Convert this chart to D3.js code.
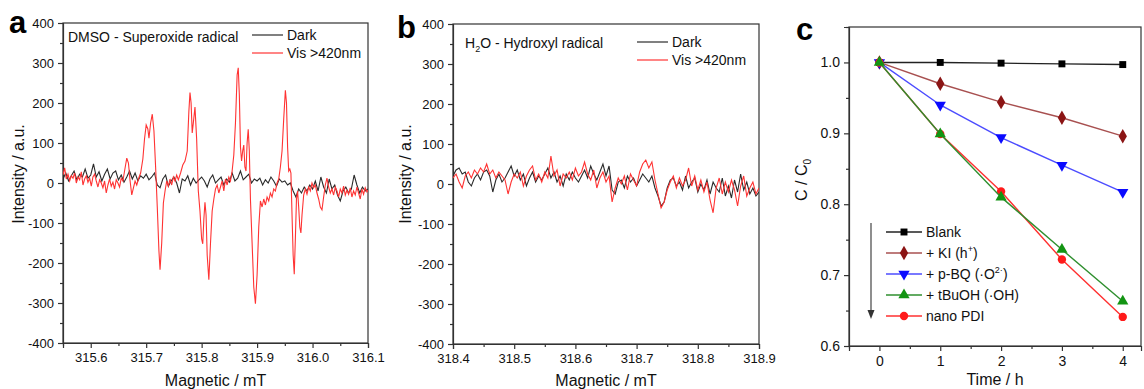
<!DOCTYPE html>
<html lang="en">
<head>
<meta charset="UTF-8">
<title>EPR spectra and scavenger test</title>
<script src="https://d3js.org/d3.v7.min.js"></script>
<style>
  body { margin: 0; background: #fff; }
  svg { display: block; font-family: "Liberation Sans", Arial, sans-serif; }
  .axis path, .axis line { stroke: #333; stroke-width: 1.2; }
  .axis text { font-size: 13px; fill: #111; }
  .axis.c text { font-size: 14px; }
  .title { font-size: 16px; fill: #111; }
  .legend { font-size: 14px; fill: #111; }
  .letter { font-size: 31px; font-weight: bold; fill: #000; }
</style>
</head>
<body>
<svg id="chart" width="1144" height="389"></svg>
<script>
// ---------- panel a : DMSO, superoxide radical ----------
const aStart = 315.55, aStep = 0.005;
const aDark = [10, 25, 5, 18, 30, 8, 22, 15, 35, 12, 20,
  48, 15, 28, 5, 22, 35, 10, 25, 30, 8,
  20, 2, 15, 30, 10, 25, 5, 18, 12, 22,
  8, 15, 25, -5, -12, 10, 20, -8, 5, 15,
  0, -25, 10, 5, 18, -5, 12, 0, 8, 15,
  5, -10, 10, 20, 0, 8, 15, -5, 10, 2,
  25, 5, 12, 30, 8, 15, 22, 0, 10, 5,
  12, -5, 8, 0, 15, 5, -8, 10, 2, 5,
  -5, 0, -20, -35, -15, -25, -10, -20, -5, -15,
  5, -20, 15, -10, -25, 10, -15, -5, -30, -45,
  -20, -10, -25, -15, 20, -5, -25, -10, -20, -15];

const aVisField = [315.550, 315.553, 315.556, 315.559, 315.562, 315.565, 315.568, 315.571, 315.574, 315.577,
  315.580, 315.583, 315.586, 315.589, 315.592, 315.595, 315.598, 315.601, 315.604, 315.607,
  315.610, 315.613, 315.616, 315.619, 315.622, 315.625, 315.628, 315.631, 315.634, 315.637,
  315.640, 315.643, 315.646, 315.649, 315.652, 315.655, 315.658, 315.661, 315.665, 315.668,
  315.671, 315.674, 315.677, 315.680, 315.683, 315.686, 315.690, 315.694, 315.697, 315.700,
  315.703, 315.705, 315.708, 315.711, 315.714, 315.717, 315.720, 315.723, 315.725, 315.728,
  315.731, 315.734, 315.737, 315.740, 315.743, 315.746, 315.749, 315.752, 315.755, 315.758,
  315.762, 315.766, 315.770, 315.774, 315.777, 315.779, 315.781, 315.783, 315.785, 315.788,
  315.791, 315.794, 315.797, 315.800, 315.802, 315.804, 315.806, 315.808, 315.810, 315.813,
  315.816, 315.819, 315.822, 315.825, 315.828, 315.831, 315.834, 315.837, 315.840, 315.843,
  315.846, 315.849, 315.852, 315.855, 315.858, 315.861, 315.864, 315.866, 315.868, 315.870,
  315.872, 315.874, 315.876, 315.878, 315.880, 315.882, 315.884, 315.886, 315.888, 315.891,
  315.894, 315.897, 315.900, 315.903, 315.906, 315.909, 315.912, 315.915, 315.918, 315.921,
  315.924, 315.927, 315.930, 315.933, 315.936, 315.939, 315.942, 315.945, 315.948, 315.951,
  315.953, 315.955, 315.957, 315.959, 315.961, 315.963, 315.965, 315.967, 315.969, 315.971,
  315.973, 315.975, 315.977, 315.979, 315.981, 315.984, 315.987, 315.990, 315.993, 315.996,
  315.999, 316.002, 316.005, 316.008, 316.011, 316.014, 316.017, 316.020, 316.023, 316.026,
  316.029, 316.032, 316.035, 316.038, 316.041, 316.044, 316.047, 316.050, 316.053, 316.056,
  316.059, 316.062, 316.065, 316.068, 316.071, 316.074, 316.077, 316.080, 316.083, 316.086,
  316.089, 316.092, 316.095, 316.098, 316.100];
const aVisInt = [20, 38, 10, 22, 5, 18, 12, 25, 0, 15,
  8, 28, -5, 10, 18, 2, 12, -8, 15, 22,
  5, -10, 8, 0, -12, 5, -25, -5, 10, -8,
  2, -15, 8, 0, -10, 12, 5, 30, 62, 50,
  5, -30, -12, 5, -5, 10, 25, 60, 110, 145,
  135, 112, 150, 172, 130, 40, -60, -170, -217, -150,
  -50, -20, 5, -8, 10, -5, 15, 5, 20, 8,
  25, 45, 55, 80, 180, 226, 200, 125, 150, 190,
  110, -20, -70, -140, -152, -90, -48, -80, -180, -242,
  -150, -70, -40, -15, -5, -25, -10, 5, -20, 10,
  -5, 15, 5, 30, 70, 150, 270, 288, 220, 90,
  55, 80, 95, 40, 30, 100, 134, 80, -40, -150,
  -260, -302, -230, -110, -45, -60, -40, -55, -35, -45,
  -25, -35, -15, -20, 0, 10, 40, 80, 160, 232,
  200, 90, 30, 35, 25, -80, -180, -228, -140, -40,
  -20, -60, -110, -125, -80, -30, -15, -28, -10, -20,
  0, -12, -5, -25, -40, -60, -67, -35, -5, 12,
  -10, -25, -15, -30, -10, -20, -35, -15, -25, -8,
  -30, -18, -28, -12, -35, -20, -30, -10, -25, -40,
  -15, -28, -12, -22, -18];

// ---------- panel b : H2O, hydroxyl radical ----------
const bStart = 318.4, bStep = 0.005;
const bDark = [20, 35, 40, 25, 30, 5, -5, 15, 25, 10, 30,
  35, 20, -20, 10, 25, 5, 15, 30, 45, 20,
  35, 10, 25, -5, 15, 30, 5, 20, 10, 25,
  40, 15, 30, 5, 20, -5, 25, 10, 30, 15,
  5, 20, 35, 15, 45, 25, 10, 30, 50, 20,
  45, -15, -25, 5, 10, -10, 20, 5, 15, -5,
  10, 25, 15, 5, 20, -10, -30, -55, -45, -10,
  10, 15, -5, 5, -15, 20, -10, 5, 15, -20,
  0, -15, 10, -25, 5, -10, -20, 15, -30, -5,
  -35, 10, -20, 25, -15, 5, -25, -10, -30, -20];
const bVis = [15, 25, 5, -10, 20, 30, 15, 35, 25, 40, 30,
  50, 25, 35, 15, 30, 20, 10, -25, 5, 25,
  15, 30, -5, 20, 35, 45, 10, 25, 5, 30,
  15, 70, 20, 35, -5, 25, 15, 30, 10, 40,
  20, 30, 55, 25, 10, 35, -10, 15, 30, 5,
  20, -45, -10, 15, 0, 20, -15, 25, 10, -5,
  30, 50, 60, 40, 55, 10, -25, -60, -45, -15,
  5, 20, -10, 15, -5, 10, 40, -5, 20, -15,
  10, -20, 5, -40, -72, -10, 15, -25, 5, -20,
  10, -15, -55, -5, 20, -30, -10, 5, -25, -10];

// ---------- panel c : scavenger test ----------
const cTime = [0, 1, 2, 3, 4];
const cBlank = [1.000, 1.000, 0.999, 0.998, 0.997];
const cKI = [1.000, 0.970, 0.944, 0.922, 0.896];
const cBQ = [1.000, 0.940, 0.894, 0.855, 0.817];
const cTBuOH = [1.000, 0.899, 0.810, 0.736, 0.663];
const cPDI = [1.000, 0.899, 0.818, 0.722, 0.641];

const svg = d3.select("#chart");
const fmtInt = d => String(d);

function frameAxes(g, x, y, xMaj, xMin, yMaj, yMin, xFmt, yFmt, cls) {
  const [l, r] = x.range(), [b, t] = y.range();
  const ax = g.append("g").attr("class", "axis " + cls).attr("transform", `translate(0,${b})`);
  ax.call(d3.axisBottom(x).tickValues(xMaj).tickSize(5).tickPadding(5).tickFormat(xFmt));
  g.append("g").attr("class", "axis").attr("transform", `translate(0,${b})`)
    .call(d3.axisBottom(x).tickValues(xMin).tickSize(3).tickFormat(""))
    .select(".domain").remove();
  const ay = g.append("g").attr("class", "axis " + cls).attr("transform", `translate(${l},0)`);
  ay.call(d3.axisLeft(y).tickValues(yMaj).tickSize(5).tickPadding(4).tickFormat(yFmt));
  g.append("g").attr("class", "axis").attr("transform", `translate(${l},0)`)
    .call(d3.axisLeft(y).tickValues(yMin).tickSize(3).tickFormat(""))
    .select(".domain").remove();
  g.append("rect").attr("x", l).attr("y", t).attr("width", r - l).attr("height", b - t)
    .attr("fill", "none").attr("stroke", "#333").attr("stroke-width", 1.2);
}

function spectrumPanel(o) {
  const g = svg.append("g");
  const x = d3.scaleLinear().domain(o.xDomain).range([o.left, o.right]);
  const y = d3.scaleLinear().domain([-400, 400]).range([o.bottom, o.top]);
  frameAxes(g, x, y, o.xMaj, o.xMin, d3.range(-400, 401, 100), d3.range(-350, 400, 100),
    d3.format(".1f"), fmtInt, "ab");
  const clipId = "clip" + o.letter;
  g.append("clipPath").attr("id", clipId).append("rect")
    .attr("x", o.left).attr("y", o.top).attr("width", o.right - o.left).attr("height", o.bottom - o.top);
  const line = d3.line().x(d => x(d[0])).y(d => y(d[1]));
  const plot = g.append("g").attr("clip-path", `url(#${clipId})`);
  plot.append("path").datum(o.dark).attr("d", line).attr("fill", "none")
    .attr("stroke", "#2a2a2a").attr("stroke-width", 1.1);
  plot.append("path").datum(o.vis).attr("d", line).attr("fill", "none")
    .attr("stroke", "#ff3333").attr("stroke-width", 1.1);

  // legend
  const lg = g.append("g");
  lg.append("line").attr("x1", o.legX).attr("x2", o.legX + 31).attr("y1", o.legY).attr("y2", o.legY)
    .attr("stroke", "#2a2a2a").attr("stroke-width", 1.2);
  lg.append("text").attr("class", "legend").attr("x", o.legX + 35).attr("y", o.legY + 5).text("Dark");
  lg.append("line").attr("x1", o.legX).attr("x2", o.legX + 31).attr("y1", o.legY + 18).attr("y2", o.legY + 18)
    .attr("stroke", "#ff3333").attr("stroke-width", 1.2);
  lg.append("text").attr("class", "legend").attr("x", o.legX + 35).attr("y", o.legY + 23).text("Vis >420nm");

  // axis titles and panel letter
  g.append("text").attr("class", "title").attr("text-anchor", "middle")
    .attr("x", (o.left + o.right) / 2).attr("y", 386).text("Magnetic / mT");
  g.append("text").attr("class", "title").attr("text-anchor", "middle")
    .attr("transform", `translate(${o.yTitleX},174) rotate(-90)`).text("Intensity / a.u.");
  g.append("text").attr("class", "letter").attr("x", o.letterX).attr("y", o.letterY).text(o.letter);
  return g;
}

const gA = spectrumPanel({
  letter: "a", left: 63, right: 368, top: 23, bottom: 343,
  xDomain: [315.55, 316.1],
  xMaj: [315.6, 315.7, 315.8, 315.9, 316.0, 316.1],
  xMin: [315.55, 315.65, 315.75, 315.85, 315.95, 316.05],
  dark: aDark.map((v, i) => [aStart + i * aStep, v]),
  vis: aVisField.map((f, i) => [f, aVisInt[i]]),
  legX: 252, legY: 35, yTitleX: 24, letterX: 9, letterY: 33
});
gA.append("text").attr("class", "legend").attr("x", 68).attr("y", 42).text("DMSO - Superoxide radical");

const gB = spectrumPanel({
  letter: "b", left: 453, right: 759, top: 24, bottom: 344,
  xDomain: [318.4, 318.9],
  xMaj: [318.4, 318.5, 318.6, 318.7, 318.8, 318.9],
  xMin: [318.45, 318.55, 318.65, 318.75, 318.85],
  dark: bDark.map((v, i) => [bStart + i * bStep, v]),
  vis: bVis.map((v, i) => [bStart + i * bStep, v]),
  legX: 637, legY: 42, yTitleX: 411, letterX: 397, letterY: 38
});
const h2o = gB.append("text").attr("class", "legend").attr("x", 465).attr("y", 48);
h2o.append("tspan").text("H");
h2o.append("tspan").attr("font-size", "9px").attr("dy", 4).text("2");
h2o.append("tspan").attr("dy", -4).text("O - Hydroxyl radical");

// ---------- panel c ----------
const gC = svg.append("g");
const xc = d3.scaleLinear().domain([-0.5, 4.3]).range([849, 1141]);
const yc = d3.scaleLinear().domain([0.6, 1.05]).range([346, 27]);
frameAxes(gC, xc, yc, cTime, [-0.5, 0.5, 1.5, 2.5, 3.5], [0.6, 0.7, 0.8, 0.9, 1.0],
  [0.65, 0.75, 0.85, 0.95, 1.05], fmtInt, d3.format(".1f"), "c");

const cSeries = [
  { key: "Blank", values: cBlank, line: "#222", fill: "#000", sym: d3.symbolSquare, size: 48, rot: 0 },
  { key: "KI", values: cKI, line: "#a85050", fill: "#8b1414", sym: d3.symbolDiamond, size: 60, rot: 0 },
  { key: "BQ", values: cBQ, line: "#4c4cff", fill: "#0a0aff", sym: d3.symbolTriangle, size: 55, rot: 180 },
  { key: "PDI", values: cPDI, line: "#ff3030", fill: "#ff1a1a", sym: d3.symbolCircle, size: 55, rot: 0 },
  { key: "TBuOH", values: cTBuOH, line: "#2f8f2f", fill: "#139413", sym: d3.symbolTriangle, size: 55, rot: 0 }
];
const cLine = d3.line().x((d, i) => xc(cTime[i])).y(d => yc(d));
cSeries.forEach(s => {
  gC.append("path").datum(s.values).attr("d", cLine).attr("fill", "none")
    .attr("stroke", s.line).attr("stroke-width", 1.4);
  gC.selectAll(null).data(s.values).join("path")
    .attr("transform", (d, i) => `translate(${xc(cTime[i])},${yc(d)}) rotate(${s.rot})`)
    .attr("d", d3.symbol(s.sym, s.size)).attr("fill", s.fill);
});

// legend with arrow
const legOrder = ["Blank", "KI", "BQ", "TBuOH", "PDI"];
gC.append("line").attr("x1", 871).attr("x2", 871).attr("y1", 223).attr("y2", 312)
  .attr("stroke", "#444").attr("stroke-width", 1.2);
gC.append("path").attr("d", "M867.5,310 L874.5,310 L871,319 Z").attr("fill", "#333");
legOrder.forEach((k, i) => {
  const s = cSeries.find(d => d.key === k);
  const ly = 232 + i * 21;
  gC.append("line").attr("x1", 886).attr("x2", 922).attr("y1", ly).attr("y2", ly)
    .attr("stroke", s.line).attr("stroke-width", 1.4);
  gC.append("path").attr("transform", `translate(904,${ly}) rotate(${s.rot})`)
    .attr("d", d3.symbol(s.sym, s.size)).attr("fill", s.fill);
  const t = gC.append("text").attr("class", "legend").attr("font-size", "15px")
    .attr("x", 926).attr("y", ly + 5);
  if (k === "Blank") t.text("Blank");
  if (k === "KI") { t.append("tspan").text("+ KI (h"); t.append("tspan").attr("font-size", "9px").attr("dy", -6).text("+");
    t.append("tspan").attr("dy", 6).text(")"); }
  if (k === "BQ") { t.append("tspan").text("+ p-BQ (\u00b7O"); t.append("tspan").attr("font-size", "9px").attr("dy", -6).text("2\u00b7");
    t.append("tspan").attr("dy", 6).text(")"); }
  if (k === "TBuOH") t.text("+ tBuOH (\u00b7OH)");
  if (k === "PDI") t.text("nano PDI");
});

gC.append("text").attr("class", "title").attr("font-size", "16px").attr("text-anchor", "middle")
  .attr("x", 995).attr("y", 385).text("Time / h");
const cy = gC.append("text").attr("class", "title").attr("font-size", "16px").attr("text-anchor", "middle")
  .attr("transform", "translate(807,180) rotate(-90)");
cy.append("tspan").text("C / C");
cy.append("tspan").attr("font-size", "10px").attr("dy", 4).text("0");
gC.append("text").attr("class", "letter").attr("x", 796).attr("y", 40).text("c");
</script>
</body>
</html>
